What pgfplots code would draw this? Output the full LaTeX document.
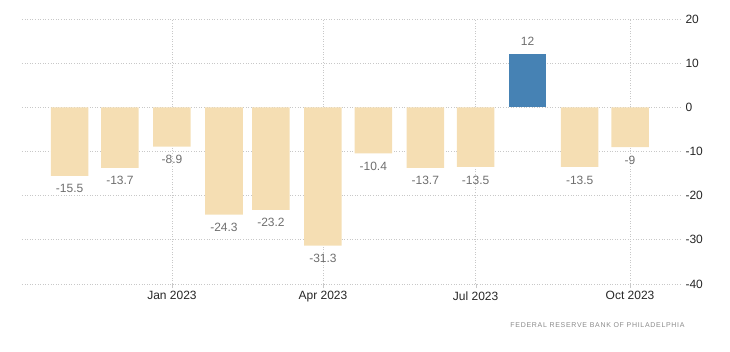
\documentclass[border=0pt]{standalone}
\usepackage{pgfplots}
\pgfplotsset{compat=1.18}
\usepackage{fontspec}
\setmainfont{Liberation Sans}
\newfontfamily\footfont[LetterSpace=10]{Liberation Sans}
\definecolor{barbeige}{HTML}{F5DEB3}
\definecolor{barblue}{HTML}{4682B4}
\definecolor{lblgray}{HTML}{6E6E6E}
\definecolor{gridgray}{HTML}{C8C8C8}
\definecolor{footgray}{HTML}{8A8A8A}
\begin{document}
\begin{tikzpicture}
\path[use as bounding box] (-22pt,-67pt) rectangle (708pt,284pt);
\begin{axis}[at={(0,0)}, anchor=south west, scale only axis,
  width=658pt, height=265pt,
  xmin=-89.4, xmax=302.8, ymin=-40, ymax=20,
  axis line style={draw=none},
  xtick={0,90,181,273},
  xticklabels={Jan 2023, Apr 2023, Jul 2023, Oct 2023},
  ytick={-40,-30,-20,-10,0,10,20},
  yticklabel pos=right,
  xtick pos=bottom,
  tick align=outside,
  major tick length=4pt,
  xtick style={draw=gridgray},
  ytick style={draw=none},
  grid=major,
  grid style={dash pattern=on 1pt off 1.6pt, draw=gridgray, line width=0.8pt},
  /pgf/number format/assume math mode=true,
  tick label style={font=\fontsize{12}{14}\selectfont, text=black!85},
  y tick label style={anchor=west, xshift=-2pt},
  ybar, bar width=37.5pt,
  nodes near coords,
  nodes near coords align=vertical,
  every node near coord/.append style={font=\fontsize{12}{14}\selectfont, text=lblgray, inner ysep=8.5pt,
     /pgf/number format/fixed, /pgf/number format/precision=1, /pgf/number format/assume math mode=true},
]
\addplot[draw=none, fill=barbeige, bar shift=0pt] coordinates {
(-61,-15.5) (-31,-13.7) (0,-8.9) (31,-24.3) (59,-23.2) (90,-31.3)
(120,-10.4) (151,-13.7) (181,-13.5) (243,-13.5) (273,-9)};
\addplot[draw=none, fill=barblue, bar shift=0pt] coordinates {(212,12)};
\end{axis}
\node[anchor=center, text=footgray, font=\footfont\fontsize{7}{8}\selectfont] at (575.5pt,-41pt) {FEDERAL RESERVE BANK OF PHILADELPHIA};
\end{tikzpicture}
\end{document}
